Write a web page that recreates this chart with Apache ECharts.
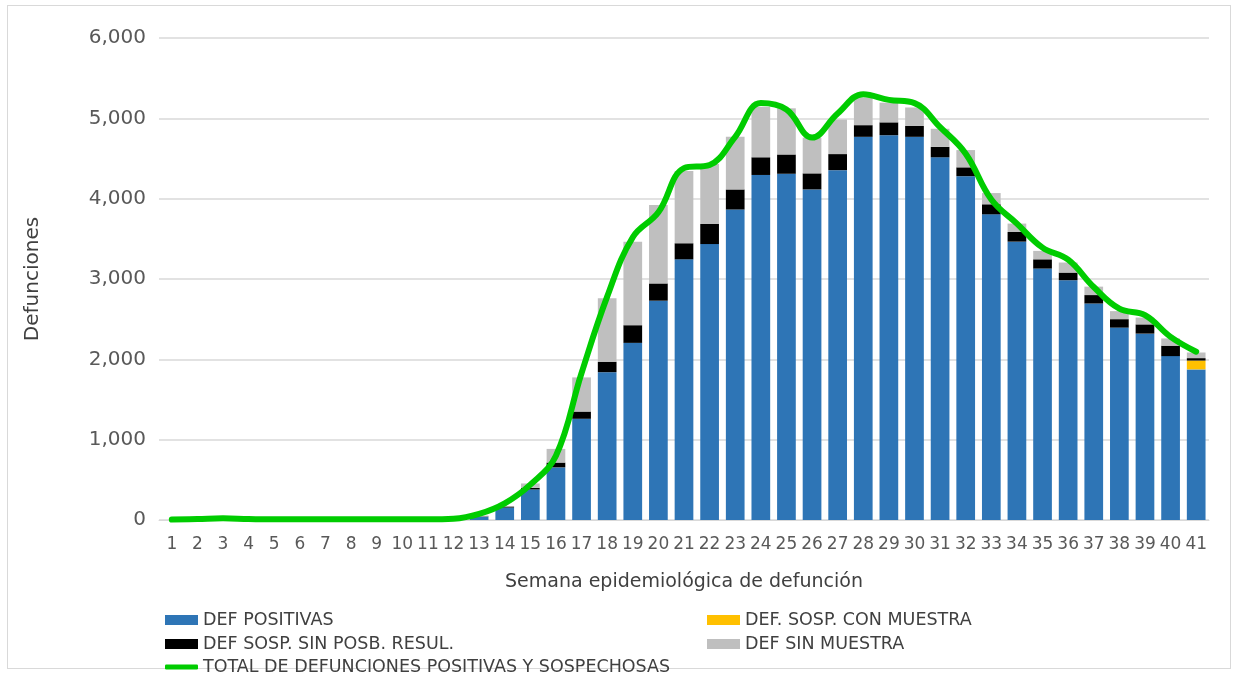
<!DOCTYPE html>
<html>
<head>
<meta charset="utf-8">
<script src="https://cdn.jsdelivr.net/npm/echarts@6/dist/echarts.min.js"></script>
<style>
  html, body { margin: 0; padding: 0; background: #fff; }
  #frame { position: absolute; left: 7px; top: 5px; width: 1224px; height: 664px; border: 1px solid #d9d9d9; box-sizing: border-box; }
  #chart { position: absolute; left: 0; top: 0; width: 1239px; height: 677px; }
</style>
</head>
<body>
<div id="frame"></div>
<div id="chart"></div>
<script>
// Semanas epidemiológicas 1–41
const weeks = Array.from({ length: 41 }, (_, i) => String(i + 1));

// Defunciones por semana y clasificación
const defPositivas = [0, 0, 0, 0, 0, 0, 0, 0, 0, 0, 0, 0,
  40, 155, 380, 655, 1260, 1840, 2205, 2730, 3245, 3435,
  3865, 4295, 4310, 4115, 4355, 4770, 4790, 4770, 4515, 4280,
  3805, 3465, 3130, 2985, 2695, 2395, 2320, 2040, 1875];

const defSospConMuestra = [0, 0, 0, 0, 0, 0, 0, 0, 0, 0, 0, 0,
  0, 0, 0, 0, 0, 0, 0, 0, 0, 0,
  0, 0, 0, 0, 0, 0, 0, 0, 0, 0,
  0, 0, 0, 0, 0, 0, 0, 0, 110];

const defSospSinResul = [0, 0, 0, 0, 0, 0, 0, 0, 0, 0, 0, 0,
  5, 12, 20, 60, 90, 130, 220, 215, 200, 250,
  250, 220, 240, 200, 200, 145, 160, 135, 130, 110,
  125, 120, 115, 95, 105, 105, 115, 130, 30];

const defSinMuestra = [0, 0, 0, 0, 0, 0, 0, 0, 0, 0, 0, 0,
  10, 5, 55, 170, 425, 790, 1040, 975, 900, 745,
  655, 630, 575, 445, 430, 345, 245, 230, 225, 215,
  140, 105, 105, 125, 105, 100, 85, 90, 70];

const totalDefunciones = [5, 12, 22, 12, 8, 8, 8, 10, 8, 8, 8, 15,
  75, 207, 440, 800, 1830, 2780, 3520, 3830, 4380, 4420,
  4770, 5190, 5110, 4760, 5060, 5300, 5230, 5190, 4890, 4560,
  3990, 3690, 3390, 3240, 2900, 2630, 2550, 2280, 2095];

const yTicks = { min: 0, max: 6000, interval: 1000 };

const FONT = 'DejaVu Sans';
const chart = echarts.init(document.getElementById('chart'), null, { renderer: 'canvas' });

const legendText = { fontFamily: FONT, fontSize: 17.5, color: '#404040' };
function legendAt(name, left, top, icon, h) {
  return {
    data: [name], left: left, top: top, orient: 'horizontal',
    icon: icon, itemWidth: 33, itemHeight: h, itemGap: 0,
    textStyle: legendText, padding: 0, selectedMode: false
  };
}

chart.setOption({
  animation: false,
  grid: { left: 159, right: 30, top: 38, bottom: 157, containLabel: false },
  legend: [
    legendAt('DEF POSITIVAS', 165, 611, 'rect', 10),
    legendAt('DEF. SOSP. CON MUESTRA', 707, 611, 'rect', 10),
    legendAt('DEF SOSP. SIN POSB. RESUL.', 165, 635, 'rect', 10),
    legendAt('DEF SIN MUESTRA', 707, 635, 'rect', 10),
    legendAt('TOTAL DE DEFUNCIONES POSITIVAS Y SOSPECHOSAS', 165, 658, 'roundRect', 5)
  ],
  xAxis: {
    type: 'category',
    data: weeks,
    name: 'Semana epidemiológica de defunción',
    nameLocation: 'middle',
    nameGap: 53,
    nameTextStyle: { fontFamily: FONT, fontSize: 19, color: '#404040' },
    axisLine: { lineStyle: { color: '#d9d9d9', width: 1 } },
    axisTick: { show: false },
    axisLabel: { fontFamily: FONT, fontSize: 17, color: '#595959', margin: 16, interval: 0 }
  },
  yAxis: {
    type: 'value',
    min: yTicks.min, max: yTicks.max, interval: yTicks.interval,
    name: 'Defunciones',
    nameLocation: 'middle',
    nameGap: 116,
    nameRotate: 90,
    nameTextStyle: { fontFamily: FONT, fontSize: 20, color: '#404040' },
    axisLine: { show: false },
    axisTick: { show: false },
    splitLine: { lineStyle: { color: '#d9d9d9', width: 1.5 } },
    axisLabel: {
      fontFamily: FONT, fontSize: 20, color: '#595959', margin: 13,
      formatter: v => v.toLocaleString('en-US')
    }
  },
  series: [
    { name: 'DEF POSITIVAS', type: 'bar', stack: 'def', data: defPositivas,
      barCategoryGap: '27%', itemStyle: { color: '#2e75b6' } },
    { name: 'DEF. SOSP. CON MUESTRA', type: 'bar', stack: 'def', data: defSospConMuestra,
      itemStyle: { color: '#ffc000' } },
    { name: 'DEF SOSP. SIN POSB. RESUL.', type: 'bar', stack: 'def', data: defSospSinResul,
      itemStyle: { color: '#000000' } },
    { name: 'DEF SIN MUESTRA', type: 'bar', stack: 'def', data: defSinMuestra,
      itemStyle: { color: '#bfbfbf' } },
    { name: 'TOTAL DE DEFUNCIONES POSITIVAS Y SOSPECHOSAS', type: 'line', data: totalDefunciones,
      smooth: 0.4, symbol: 'none', z: 5,
      lineStyle: { color: '#00cc00', width: 6, cap: 'round', join: 'round' },
      itemStyle: { color: '#00cc00' } }
  ]
});
</script>
</body>
</html>
